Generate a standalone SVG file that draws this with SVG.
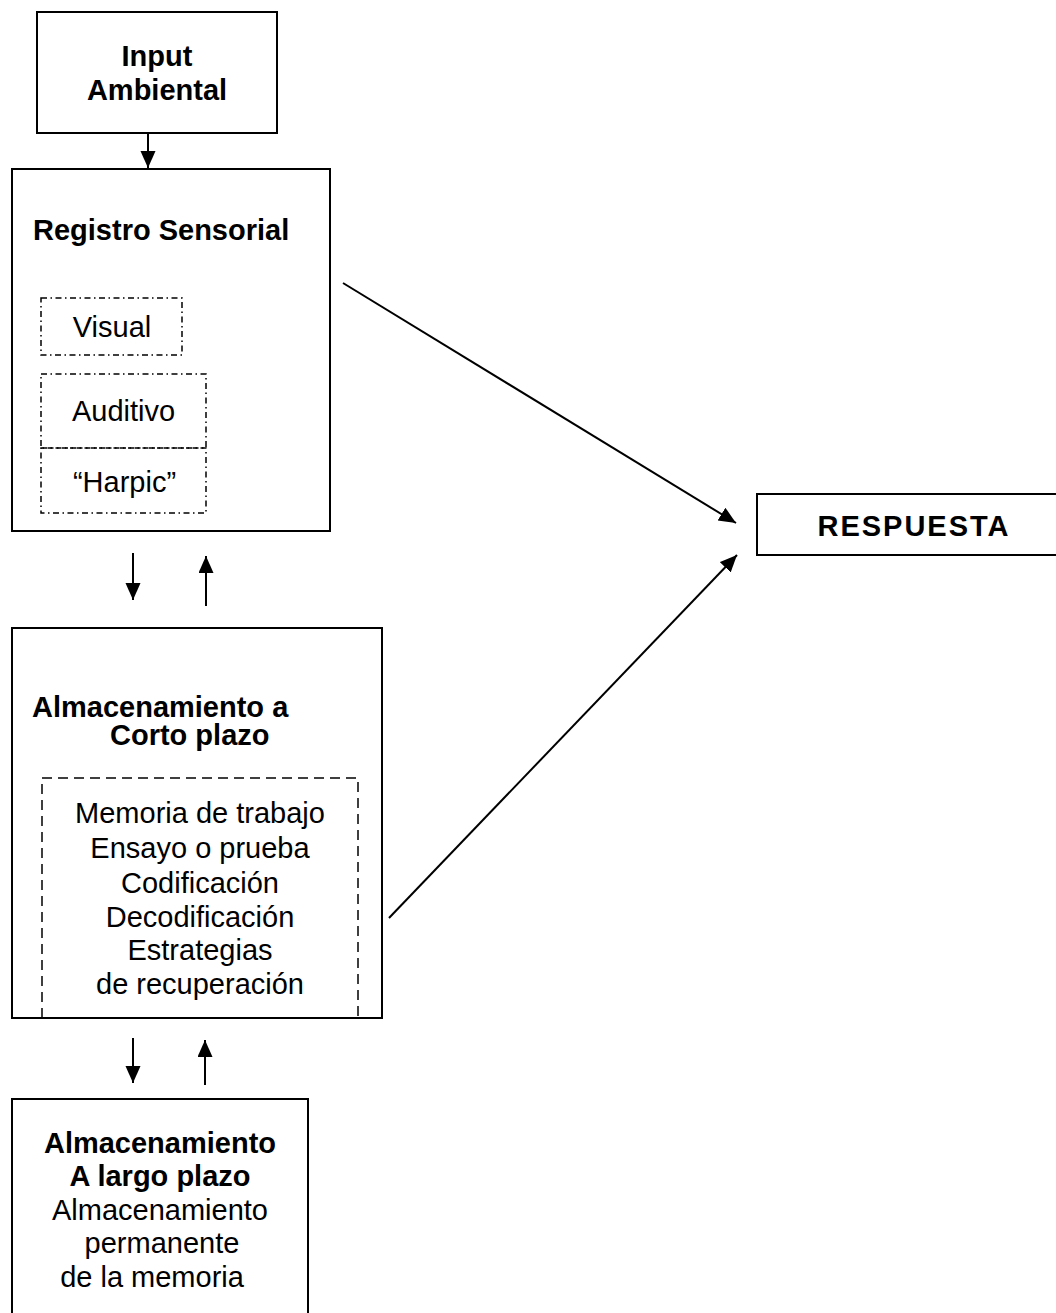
<svg xmlns="http://www.w3.org/2000/svg" width="1056" height="1313" viewBox="0 0 1056 1313">
  <style>
    .box { fill: #ffffff; stroke: #000000; stroke-width: 2; }
    .sub { fill: none; stroke: #000000; stroke-width: 1.5; stroke-dasharray: 6 3.5 1.5 3.5; }
    .dash { fill: none; stroke: #000000; stroke-width: 1.5; stroke-dasharray: 10 6; }
    .link { fill: none; stroke: #000000; stroke-width: 2; marker-end: url(#head); }
    text { font-family: "Liberation Sans", Arial, sans-serif; font-size: 29px; fill: #000000; }
    .b { font-weight: bold; }
    .c { text-anchor: middle; }
  </style>
  <defs>
    <marker id="head" markerUnits="userSpaceOnUse" markerWidth="18" markerHeight="16" refX="17" refY="7.5" orient="auto">
      <path d="M0,0 L17,7.5 L0,15 z" fill="#000000"/>
    </marker>
  </defs>

  <g id="input-ambiental">
    <rect class="box" x="37" y="12" width="240" height="121"/>
    <text class="b c" x="157" y="66">Input</text>
    <text class="b c" x="157" y="100">Ambiental</text>
  </g>

  <g id="registro-sensorial">
    <rect class="box" x="12" y="169" width="318" height="362"/>
    <text class="b" x="33" y="240">Registro Sensorial</text>
    <g id="visual">
      <rect class="sub" x="41" y="298" width="141" height="57"/>
      <text class="c" x="112" y="337">Visual</text>
    </g>
    <g id="auditivo">
      <rect class="sub" x="41" y="374" width="165" height="74"/>
      <text class="c" x="123.5" y="421">Auditivo</text>
    </g>
    <g id="harpic">
      <rect class="sub" x="41" y="448" width="165" height="65"/>
      <text class="c" x="124.5" y="492">“Harpic”</text>
    </g>
  </g>

  <g id="corto-plazo">
    <rect class="box" x="12" y="628" width="370" height="390"/>
    <text class="b" x="32" y="717">Almacenamiento a</text>
    <text class="b" x="110" y="745">Corto plazo</text>
    <path class="dash" d="M42,1018 V778 H358 V1018"/>
    <text class="c" x="200" y="823">Memoria de trabajo</text>
    <text class="c" x="200" y="858">Ensayo o prueba</text>
    <text class="c" x="200" y="893">Codificación</text>
    <text class="c" x="200" y="927">Decodificación</text>
    <text class="c" x="200" y="960">Estrategias</text>
    <text class="c" x="200" y="994">de recuperación</text>
  </g>

  <g id="largo-plazo">
    <rect class="box" x="12" y="1099" width="296" height="240"/>
    <text class="b c" x="160" y="1153">Almacenamiento</text>
    <text class="b c" x="160" y="1186">A largo plazo</text>
    <text class="c" x="160" y="1220">Almacenamiento</text>
    <text class="c" x="162" y="1253">permanente</text>
    <text class="c" x="152" y="1287">de la memoria</text>
  </g>

  <g id="respuesta">
    <rect class="box" x="757" y="494" width="320" height="61"/>
    <text class="b c" x="914" y="536" letter-spacing="2">RESPUESTA</text>
  </g>

  <g id="connectors">
    <line class="link" x1="148" y1="133" x2="148" y2="168"/>
    <line class="link" x1="133" y1="553" x2="133" y2="600"/>
    <line class="link" x1="206" y1="606" x2="206" y2="556"/>
    <line class="link" x1="133" y1="1038" x2="133" y2="1083"/>
    <line class="link" x1="205" y1="1085" x2="205" y2="1040"/>
    <line class="link" x1="343" y1="283" x2="736" y2="523"/>
    <line class="link" x1="389" y1="918" x2="737" y2="555"/>
  </g>
</svg>
